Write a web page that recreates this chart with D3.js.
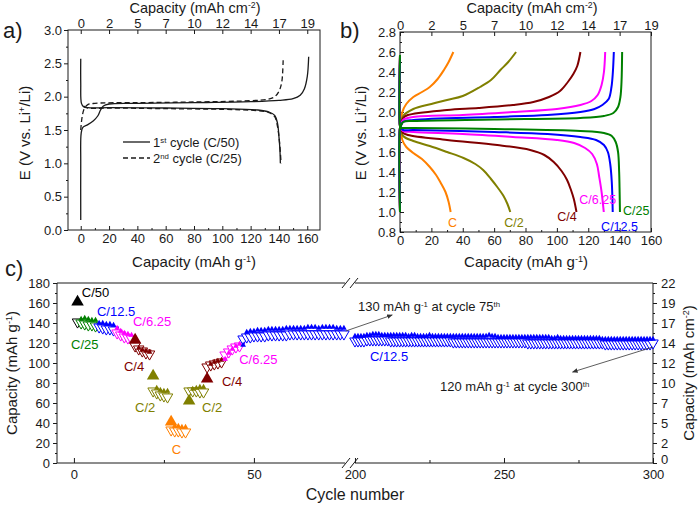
<!DOCTYPE html>
<html>
<head>
<meta charset="utf-8">
<script src="https://cdn.jsdelivr.net/npm/d3@7"></script>
<style>
  body { margin: 0; background: #fff; }
</style>
</head>
<body>
<script>
// ---- Panel a: first two galvanostatic cycles [capacity mAh g-1, E V] ----
const cycle1Discharge = [[0, 2.57], [0, 2.2], [0.5, 1.9], [2, 1.85], [5, 1.835], [20, 1.835], [60, 1.83], [100, 1.82], [125, 1.8], [133, 1.77], [137, 1.72], [139, 1.6], [140, 1.4], [140.7, 1.2], [141, 1.0]]
const cycle1Charge = [[0, 0.15], [0, 1.0], [0.3, 1.45], [1.5, 1.54], [5, 1.58], [9, 1.64], [12, 1.71], [14, 1.8], [16, 1.86], [20, 1.89], [40, 1.9], [80, 1.91], [120, 1.925], [140, 1.945], [150, 1.97], [155, 2.02], [158, 2.12], [160, 2.3], [161, 2.6]]
const cycle2Discharge = [[2, 1.86], [5, 1.83], [20, 1.83], [60, 1.82], [100, 1.81], [125, 1.79], [133, 1.76], [137, 1.7], [139, 1.55], [140.5, 1.3], [141.5, 1.0]]
const cycle2Charge = [[0, 1.5], [1, 1.7], [2.5, 1.82], [5, 1.88], [10, 1.9], [40, 1.91], [80, 1.92], [120, 1.94], [132, 1.96], [137, 2.0], [140, 2.08], [142, 2.22], [143, 2.57]]
const topTicksA = ['0', '2', '5', '7', '10', '12', '14', '17', '19']

// ---- Panel b: curves at each rate ----
const ratesB = ['C', 'C/2', 'C/4', 'C/6.25', 'C/12.5', 'C/25']
const chargeB = [
  [[0, 1.0], [0, 1.84], [0.5, 1.86], [1.5, 2.0], [4, 2.08], [8.5, 2.15], [14, 2.2], [19, 2.25], [24, 2.33], [28, 2.42], [31, 2.5], [34, 2.6]],
  [[0, 1.0], [0, 1.84], [0.5, 1.86], [2, 1.96], [8.5, 2.03], [20, 2.08], [30, 2.12], [40, 2.16], [51, 2.25], [58, 2.32], [64, 2.42], [69, 2.5], [74, 2.6]],
  [[0, 1.0], [0, 1.84], [0.5, 1.86], [2, 1.94], [5, 1.97], [30, 2.02], [50, 2.04], [72, 2.07], [85, 2.1], [95, 2.15], [102, 2.21], [107, 2.3], [110.5, 2.38], [113, 2.46], [115, 2.6]],
  [[0, 1.0], [0, 1.84], [0.5, 1.86], [2, 1.92], [8.5, 1.95], [40, 1.97], [72, 2.0], [100, 2.03], [115, 2.07], [122, 2.11], [126, 2.17], [128.5, 2.27], [130, 2.4], [130.8, 2.6]],
  [[0, 1.0], [0, 1.84], [0.5, 1.86], [2, 1.9], [8.5, 1.92], [60, 1.95], [94, 1.97], [115, 2.0], [124, 2.03], [129, 2.07], [133, 2.13], [134.8, 2.25], [135.7, 2.4], [136.3, 2.6]],
  [[0, 1.0], [0, 1.84], [0.5, 1.86], [2, 1.9], [8.5, 1.91], [60, 1.925], [115, 1.94], [130, 1.96], [136, 1.99], [139, 2.05], [140.5, 2.15], [141.2, 2.3], [141.6, 2.6]]
]
const dischargeB = [
  [[0, 2.57], [0, 1.86], [0.5, 1.84], [1.5, 1.72], [4, 1.65], [8.5, 1.59], [14, 1.53], [19, 1.45], [23, 1.37], [26, 1.29], [29, 1.2], [31, 1.1], [32.3, 1.0]],
  [[0, 2.57], [0, 1.86], [0.5, 1.84], [2, 1.76], [8.5, 1.71], [19, 1.66], [30, 1.6], [40.5, 1.54], [48, 1.48], [53, 1.42], [58, 1.33], [62, 1.25], [66, 1.16], [68.5, 1.08], [70.3, 1.0]],
  [[0, 2.57], [0, 1.86], [0.5, 1.84], [2, 1.79], [5, 1.77], [30, 1.72], [62, 1.67], [83, 1.62], [92, 1.57], [98, 1.5], [103, 1.41], [106.5, 1.32], [109, 1.22], [110.8, 1.13], [112.5, 1.0]],
  [[0, 2.57], [0, 1.86], [0.5, 1.84], [2, 1.81], [8.5, 1.8], [40, 1.78], [72, 1.75], [100, 1.72], [111, 1.69], [118, 1.64], [122.5, 1.58], [125.5, 1.48], [127, 1.35], [128.5, 1.2], [129.9, 1.0]],
  [[0, 2.57], [0, 1.86], [0.5, 1.84], [2, 1.82], [8.5, 1.82], [60, 1.8], [94, 1.78], [115, 1.75], [125, 1.72], [130, 1.67], [132.5, 1.6], [134, 1.48], [135, 1.3], [135.6, 1.0]],
  [[0, 2.57], [0, 1.86], [0.5, 1.84], [2, 1.84], [8.5, 1.84], [60, 1.83], [115, 1.81], [130, 1.79], [135, 1.76], [137.5, 1.7], [139, 1.6], [139.7, 1.4], [140, 1.2], [140.2, 1.0]]
]

// ---- Panel c: cycling at various rates ----
const groupRates = ['C/50', 'C/25', 'C/12.5', 'C/6.25', 'C/4', 'C/2', 'C', 'C/2', 'C/4', 'C/6.25', 'C/12.5']
const groupFirstCycle = [1, 2, 7, 12, 17, 22, 27, 32, 37, 42, 47]
const leftCycles = d3.range(1, 76)
const leftCharge = [161,
  144, 145, 144, 143, 143,
  140, 140, 139, 139, 138,
  135, 132, 130, 129, 128,
  123, 115, 113, 112, 111,
  87, 75, 73, 72, 72,
  41, 37, 37, 36, 36,
  62, 74, 75, 76, 76,
  84, 99, 101, 102, 103,
  104, 110, 114, 117, 119,
  118, 131, 132, 132, 133, 133, 133, 134, 134, 134, 134, 134, 135, 135, 135, 135, 135, 135, 136, 136, 136, 135, 136, 136, 136, 136, 135, 135, 135]
const leftDischarge = [141,
  140, 139, 138, 138, 137,
  136, 135, 134, 134, 133,
  130, 128, 126, 125, 124,
  117, 114, 112, 110, 109,
  72, 70, 68, 67, 66,
  33, 32, 32, 31, 31,
  72, 72, 72, 71, 71,
  96, 98, 99, 100, 101,
  108, 111, 114, 116, 117,
  124, 126, 126, 127, 127, 127, 127, 128, 128, 128, 128, 128, 128, 129, 129, 129, 129, 129, 129, 129, 129, 129, 129, 129, 129, 129, 129, 129, 129]
const bigMarkerCycles = [1, 17, 22, 27, 32, 37]
const rightCycles = d3.range(200, 301)
const rightCharge = [
  127, 127, 127, 127, 128, 128, 129, 129, 129, 128,
  128, 128, 128, 128, 128, 128, 128, 128, 127, 128,
  128, 127, 127, 127, 127, 128, 127, 127, 127, 127,
  127, 127, 127, 127, 127, 127, 127, 127, 127, 127,
  127, 127, 127, 127, 127, 128, 127, 127, 126, 126,
  126, 126, 126, 126, 126, 126, 126, 126, 126, 126,
  126, 126, 126, 126, 126, 126, 125, 125, 126, 125,
  125, 125, 125, 125, 125, 125, 125, 125, 125, 125,
  125, 125, 125, 124, 124, 124, 124, 124, 124, 124,
  124, 124, 124, 124, 124, 124, 124, 124, 124, 124, 124]
const rightDischarge = [
  122, 122, 122, 122, 123, 123, 123, 123, 123, 123,
  123, 123, 122, 122, 122, 122, 122, 122, 122, 122,
  122, 122, 122, 122, 122, 122, 122, 122, 122, 122,
  122, 122, 122, 121, 121, 121, 121, 121, 121, 121,
  121, 121, 121, 121, 121, 121, 121, 121, 121, 121,
  121, 121, 121, 121, 121, 121, 121, 121, 120, 120,
  120, 120, 120, 120, 120, 120, 120, 120, 120, 120,
  120, 120, 120, 120, 120, 120, 120, 120, 120, 120,
  120, 120, 120, 120, 119, 119, 119, 119, 119, 119,
  119, 119, 119, 119, 119, 119, 119, 119, 119, 119, 120]
const rightTicksC = ['0', '2', '5', '7', '10', '12', '14', '17', '19', '22']

// ---- styles ----
const FONT = 'Arial, "Liberation Sans", sans-serif'
const INK = '#1a1a1a'
const rateColor = {
  'C/50': '#000000', 'C/25': '#008000', 'C/12.5': '#0000ff', 'C/6.25': '#ff00ff',
  'C/4': '#800000', 'C/2': '#808000', 'C': '#ff8000'
}

const svg = d3.select('body').append('svg').attr('width', 700).attr('height', 505)

// scales
const xA = d3.scaleLinear().domain([-9, 169]).range([68, 320])
const yA = d3.scaleLinear().domain([0, 3]).range([230, 30])
const xB = d3.scaleLinear().domain([0, 160]).range([400, 651])
const yB = d3.scaleLinear().domain([0.8, 2.8]).range([232, 32])
const xL = d3.scaleLinear().domain([-4.7, 75.3]).range([57, 345])
const xR = d3.scaleLinear().domain([199, 300]).range([352, 653])
const yC = d3.scaleLinear().domain([0, 180]).range([463, 283])

// helpers
function axis (gen, x, y) {
  const g = svg.append('g').attr('transform', `translate(${x},${y})`).call(gen)
  g.select('.domain').remove()
  g.attr('font-size', 13).attr('font-family', FONT)
  g.selectAll('line').attr('stroke', INK)
  g.selectAll('text').attr('fill', INK)
  return g
}

function label (x, y, parts, opt = {}) {
  const size = opt.size || 15
  const t = svg.append('text')
    .attr('font-family', FONT).attr('font-size', size)
    .attr('fill', opt.color || INK).attr('text-anchor', opt.anchor || 'start')
  if (opt.rotate) t.attr('transform', `translate(${x},${y}) rotate(-90)`)
  else t.attr('x', x).attr('y', y)
  parts.forEach(p => {
    const s = t.append('tspan').text(typeof p === 'string' ? p : p.sup)
    if (typeof p !== 'string') s.attr('baseline-shift', 'super').attr('font-size', size * 0.6)
  })
  return t
}

function frame (x0, y0, x1, y1) {
  svg.append('rect').attr('x', x0).attr('y', y0).attr('width', x1 - x0).attr('height', y1 - y0)
    .attr('fill', 'none').attr('stroke', INK).attr('stroke-width', 1)
}

const curve = d3.curveCatmullRom.alpha(0.5)

// ================= Panel a =================
frame(68, 30, 320, 230)
axis(d3.axisLeft(yA).tickValues(d3.range(0, 3.01, 0.5)).tickFormat(d3.format('.1f')).tickSize(4).tickPadding(2), 68, 0)
axis(d3.axisLeft(yA).tickValues(d3.range(0.25, 3, 0.5)).tickFormat('').tickSize(2), 68, 0)
axis(d3.axisBottom(xA).tickValues(d3.range(0, 161, 20)).tickSize(-4).tickPadding(4), 0, 230)
axis(d3.axisBottom(xA).tickValues(d3.range(10, 170, 20)).tickFormat('').tickSize(-2), 0, 230)
axis(d3.axisTop(xA).tickValues(d3.range(0, 161, 20)).tickFormat((d, i) => topTicksA[i]).tickSize(-4).tickPadding(2), 0, 30)

const lineA = d3.line().x(d => xA(d[0])).y(d => yA(d[1])).curve(curve)
;[cycle1Discharge, cycle1Charge].forEach(s => {
  svg.append('path').datum(s).attr('d', lineA).attr('fill', 'none').attr('stroke', INK).attr('stroke-width', 1.3)
})
;[cycle2Discharge, cycle2Charge].forEach(s => {
  svg.append('path').datum(s).attr('d', lineA).attr('fill', 'none').attr('stroke', INK).attr('stroke-width', 1.3).attr('stroke-dasharray', '5,3')
})

// legend
svg.append('line').attr('x1', 123).attr('x2', 150).attr('y1', 142).attr('y2', 142).attr('stroke', INK).attr('stroke-width', 1.3)
svg.append('line').attr('x1', 123).attr('x2', 150).attr('y1', 158).attr('y2', 158).attr('stroke', INK).attr('stroke-width', 1.3).attr('stroke-dasharray', '5,3')
label(153, 147, ['1', { sup: 'st' }, ' cycle (C/50)'], { size: 13 })
label(153, 163, ['2', { sup: 'nd' }, ' cycle (C/25)'], { size: 13 })

label(195, 13, ['Capacity (mAh cm', { sup: '-2' }, ')'], { anchor: 'middle', size: 14.5 })
label(194, 267, ['Capacity (mAh g', { sup: '-1' }, ')'], { anchor: 'middle' })
label(30, 133, ['E (V vs. Li', { sup: '+' }, '/Li)'], { anchor: 'middle', rotate: true })
label(3, 38, ['a)'], { size: 22 })

// ================= Panel b =================
frame(400, 32, 651, 232)
axis(d3.axisLeft(yB).tickValues(d3.range(0.8, 2.81, 0.2)).tickFormat(d3.format('.1f')).tickSize(-4).tickPadding(4), 400, 0)
axis(d3.axisLeft(yB).tickValues(d3.range(0.9, 2.8, 0.2)).tickFormat('').tickSize(-2), 400, 0)
axis(d3.axisBottom(xB).tickValues(d3.range(0, 161, 20)).tickSize(-4).tickPadding(4), 0, 232)
axis(d3.axisBottom(xB).tickValues(d3.range(10, 160, 20)).tickFormat('').tickSize(-2), 0, 232)
axis(d3.axisTop(xB).tickValues(d3.range(0, 161, 20)).tickFormat((d, i) => topTicksA[i]).tickSize(-4).tickPadding(2), 0, 32)

const lineB = d3.line().x(d => xB(d[0])).y(d => yB(d[1])).curve(curve)
ratesB.forEach((r, i) => {
  ;[chargeB[i], dischargeB[i]].forEach(s => {
    svg.append('path').datum(s).attr('d', lineB).attr('fill', 'none')
      .attr('stroke', rateColor[r]).attr('stroke-width', 2)
  })
})

const labelPosB = { 'C': [30.6, 0.85], 'C/2': [66.4, 0.85], 'C/4': [100.2, 0.91], 'C/6.25': [114.3, 1.08], 'C/12.5': [128.2, 0.81], 'C/25': [142.2, 0.975] }
ratesB.forEach(r => {
  label(xB(labelPosB[r][0]), yB(labelPosB[r][1]), [r], { size: 12.5, color: rateColor[r] })
})

label(532, 13, ['Capacity (mAh cm', { sup: '-2' }, ')'], { anchor: 'middle', size: 14.5 })
label(526, 267, ['Capacity (mAh g', { sup: '-1' }, ')'], { anchor: 'middle' })
label(366, 133, ['E (V vs. Li', { sup: '+' }, '/Li)'], { anchor: 'middle', rotate: true })
label(340, 38, ['b)'], { size: 22 })

// ================= Panel c =================
const brk = svg.append('g').attr('stroke', INK).attr('stroke-width', 1)
brk.append('line').attr('x1', 57).attr('x2', 345).attr('y1', 283).attr('y2', 283)
brk.append('line').attr('x1', 57).attr('x2', 345).attr('y1', 463).attr('y2', 463)
brk.append('line').attr('x1', 57).attr('x2', 57).attr('y1', 283).attr('y2', 463)
brk.append('line').attr('x1', 355).attr('x2', 653).attr('y1', 283).attr('y2', 283)
brk.append('line').attr('x1', 355).attr('x2', 653).attr('y1', 463).attr('y2', 463)
brk.append('line').attr('x1', 653).attr('x2', 653).attr('y1', 283).attr('y2', 463)
;[283, 463].forEach(y => {
  ;[346, 354].forEach(x => {
    brk.append('line').attr('x1', x - 4).attr('x2', x + 4).attr('y1', y + 5).attr('y2', y - 5)
  })
})

axis(d3.axisLeft(yC).tickValues(d3.range(0, 181, 20)).tickSize(4).tickPadding(3), 57, 0)
axis(d3.axisLeft(yC).tickValues(d3.range(10, 180, 20)).tickFormat('').tickSize(2), 57, 0)
const rightAxisC = axis(d3.axisRight(yC).tickValues(d3.range(0, 181, 20)).tickFormat((d, i) => rightTicksC[i]).tickSize(4).tickPadding(4), 653, 0)
rightAxisC.selectAll('text').filter(d => d === 0).attr('dy', '0.05em')
axis(d3.axisRight(yC).tickValues(d3.range(10, 180, 20)).tickFormat('').tickSize(2), 653, 0)
axis(d3.axisBottom(xL).tickValues([0, 50]).tickSize(-5).tickPadding(7), 0, 463)
axis(d3.axisBottom(xL).tickValues([25]).tickFormat('').tickSize(-3), 0, 463)
axis(d3.axisBottom(xR).tickValues([200, 250, 300]).tickSize(-5).tickPadding(7), 0, 463)
axis(d3.axisBottom(xR).tickValues([225, 275]).tickFormat('').tickSize(-3), 0, 463)

const rateOf = c => groupRates[d3.bisectRight(groupFirstCycle, c) - 1]
const leftPts = leftCycles.map((c, i) => ({ x: xL(c), charge: leftCharge[i], dis: leftDischarge[i], rate: rateOf(c), big: bigMarkerCycles.includes(c) }))
const rightPts = rightCycles.map((c, i) => ({ x: xR(c), charge: rightCharge[i], dis: rightDischarge[i], rate: 'C/12.5', big: false }))
const allPts = leftPts.concat(rightPts)

const tri = d3.symbol().type(d3.symbolTriangle)
const marks = svg.append('g')
marks.selectAll('.open').data(allPts).join('path').attr('class', 'open')
  .attr('d', tri.size(48)())
  .attr('transform', d => `translate(${d.x},${yC(d.dis)}) rotate(180)`)
  .attr('fill', '#fff').attr('stroke', d => rateColor[d.rate]).attr('stroke-width', 1)
marks.selectAll('.filled').data(allPts.filter(d => !d.big)).join('path').attr('class', 'filled')
  .attr('d', tri.size(14)())
  .attr('transform', d => `translate(${d.x},${yC(d.charge)})`)
  .attr('fill', d => rateColor[d.rate])
marks.selectAll('.big').data(allPts.filter(d => d.big)).join('path').attr('class', 'big')
  .attr('d', tri.size(68)())
  .attr('transform', d => `translate(${d.x},${yC(d.charge)})`)
  .attr('fill', d => rateColor[d.rate])

// rate labels
const labelsC = [
  ['C/50', xL(2.2), 166], ['C/12.5', xL(6.4), 147], ['C/6.25', xL(16.4), 137], ['C/25', xL(-0.8), 114],
  ['C/4', xL(13.9), 92], ['C/2', xL(17.0), 51], ['C', xL(27.2), 9], ['C/2', xL(35.6), 51],
  ['C/4', xL(41.1), 77], ['C/6.25', xL(45.9), 99], ['C/12.5', xR(205), 102]
]
labelsC.forEach(([r, x, v]) => label(x, yC(v), [r], { size: 13, color: rateColor[r] }))

// annotations
const defs = svg.append('defs')
defs.append('marker').attr('id', 'arr').attr('viewBox', '0 0 10 10').attr('refX', 9).attr('refY', 5)
  .attr('markerWidth', 7).attr('markerHeight', 7).attr('orient', 'auto')
  .append('path').attr('d', 'M0,1 L10,5 L0,9 Z').attr('fill', '#333')
svg.append('line').attr('x1', xL(75.5)).attr('y1', yC(132)).attr('x2', xR(212.5)).attr('y2', yC(148))
  .attr('stroke', '#333').attr('stroke-width', 0.8).attr('marker-end', 'url(#arr)')
svg.append('line').attr('x1', xR(300)).attr('y1', yC(116)).attr('x2', xR(273)).attr('y2', yC(91))
  .attr('stroke', '#333').attr('stroke-width', 0.8).attr('marker-end', 'url(#arr)')
label(358, 311, ['130 mAh g', { sup: '-1' }, ' at cycle 75', { sup: 'th' }], { size: 13 })
label(440, 391, ['120 mAh g', { sup: '-1' }, ' at cycle 300', { sup: 'th' }], { size: 13 })

label(17, 373, ['Capacity (mAh g', { sup: '-1' }, ')'], { anchor: 'middle', rotate: true })
label(694, 373, ['Capacity (mAh cm', { sup: '-2' }, ')'], { anchor: 'middle', rotate: true })
label(355, 500, ['Cycle number'], { anchor: 'middle', size: 16 })
label(5, 276, ['c)'], { size: 22 })
</script>
</body>
</html>
